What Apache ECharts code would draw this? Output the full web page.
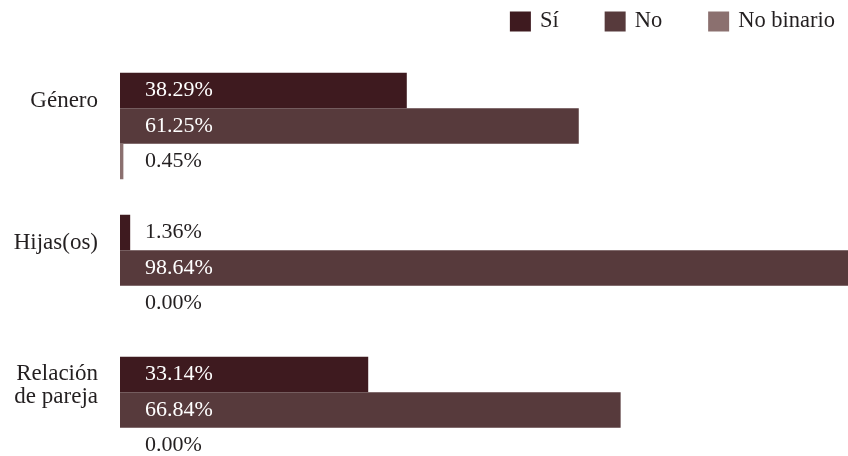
<!DOCTYPE html>
<html>
<head>
<meta charset="utf-8">
<script src="https://cdn.jsdelivr.net/npm/echarts@6/dist/echarts.min.js"></script>
<style>
  html, body { margin: 0; padding: 0; background: #fff; }
  #chart { width: 848px; height: 456px; }
</style>
</head>
<body>
<div id="chart"></div>
<script>
// Categories (top to bottom) and the three answer groups, in percent
const categories = ['Género', 'Hijas(os)', 'Relación\nde pareja'];
const seriesNames = ['Sí', 'No', 'No binario'];
const siValues = [38.29, 1.36, 33.14];
const noValues = [61.25, 98.64, 66.84];
const noBinarioValues = [0.45, 0.00, 0.00];

const colors = ['#3e1a1f', '#573a3c', '#8b706f'];
const FONT = 'Liberation Serif';
const TEXT = '#231f20';

// Labels sit inside wide bars (white) and next to narrow ones (dark)
function toData(values) {
  return values.map(v => ({
    value: v,
    label: { color: v >= 5 ? '#ffffff' : TEXT }
  }));
}

function makeSeries(name, values, color) {
  return {
    name: name,
    type: 'bar',
    data: toData(values),
    barGap: '0%',
    barCategoryGap: '25%',
    itemStyle: { color: color },
    label: {
      show: true,
      position: 'insideLeft',
      distance: 25,
      fontFamily: FONT,
      fontSize: 22,
      formatter: p => p.value.toFixed(2) + '%'
    },
    emphasis: { disabled: true }
  };
}

const chart = echarts.init(document.getElementById('chart'), null, { renderer: 'canvas' });
chart.setOption({
  animation: false,
  color: colors,
  legend: {
    data: seriesNames,
    right: 8,
    top: 5,
    icon: 'rect',
    itemWidth: 21,
    itemHeight: 20,
    itemGap: 46,
    textStyle: { fontFamily: FONT, fontSize: 22.5, color: TEXT, padding: [0, 0, 0, 4] }
  },
  grid: {
    left: 120, right: -21, top: 55, height: 426,
    containLabel: false,
    outerBoundsMode: 'none'
  },
  xAxis: {
    type: 'value',
    min: 0,
    max: 100,
    show: false
  },
  yAxis: {
    type: 'category',
    inverse: true,
    data: categories,
    axisLine: { show: false },
    axisTick: { show: false },
    splitLine: { show: false },
    axisLabel: {
      margin: 22,
      formatter: v => '{c|' + v + '}',
      rich: {
        c: {
          fontFamily: FONT,
          fontSize: 23,
          lineHeight: 23,
          color: TEXT,
          align: 'right',
          padding: [0, 0, 50, 0]
        }
      }
    }
  },
  series: [
    makeSeries(seriesNames[0], siValues, colors[0]),
    makeSeries(seriesNames[1], noValues, colors[1]),
    makeSeries(seriesNames[2], noBinarioValues, colors[2])
  ]
});
</script>
</body>
</html>
